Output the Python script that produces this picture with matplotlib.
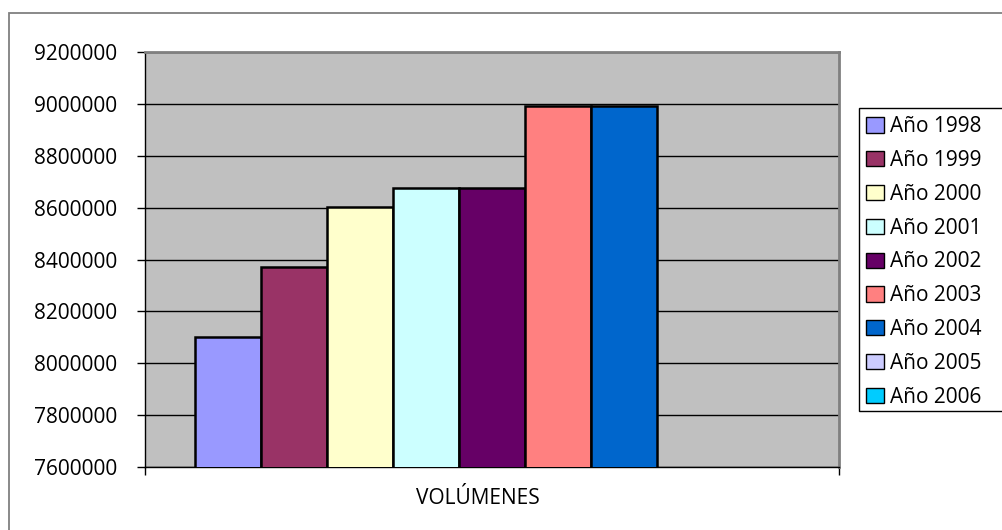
import matplotlib
matplotlib.use("Agg")
import matplotlib.pyplot as plt
from matplotlib.patches import Rectangle

series = ["Año 1998", "Año 1999", "Año 2000", "Año 2001", "Año 2002",
          "Año 2003", "Año 2004", "Año 2005", "Año 2006"]
values = [8102000, 8372000, 8603000, 8676000, 8676000,
          8992000, 8992000, 0, 0]
category = "VOLÚMENES"
yticks = [7600000, 7800000, 8000000, 8200000, 8400000,
          8600000, 8800000, 9000000, 9200000]
colors = ["#9999FF", "#993366", "#FFFFCC", "#CCFFFF", "#660066",
          "#FF8080", "#0066CC", "#CCCCFF", "#00CCFF"]

plt.rcParams['font.family'] = ['Open Sans', 'DejaVu Sans']

W, H = 1003, 530
fig = plt.figure(figsize=(W / 100, H / 100), dpi=100)

# outer chart border
fig.patches.append(Rectangle((9 / W, -0.1), 1.2, 1 - 13 / H + 0.1,
                             transform=fig.transFigure, fill=False,
                             edgecolor="#808080", linewidth=1.3))

L, R, T, B = 145, 839, 52, 467
ax = fig.add_axes([L / W, 1 - B / H, (R - L) / W, (B - T) / H])
ax.set_facecolor("#C0C0C0")

n = len(series)
w = 1.0 / (n + 1.5)
start = -0.5 + 0.75 * w
handles = []
for i, (s, v, c) in enumerate(zip(series, values, colors)):
    h = ax.bar(start + (i + 0.5) * w, v, width=w, color=c, edgecolor="black",
               linewidth=1.8, label=s, zorder=3)
    handles.append(h)

ax.set_xlim(-0.5, 0.5)
ax.set_ylim(yticks[0], yticks[-1])
ax.set_yticks(yticks)
ax.set_yticklabels([str(t) for t in yticks], fontsize=15)
ax.set_xticks([-0.5, 0.5])
ax.set_xticklabels(["", ""])
ax.tick_params(axis="y", direction="out", length=6, width=1, color="black", pad=14)
ax.tick_params(axis="x", direction="out", length=6, width=1, color="black")
ax.yaxis.grid(True, color="black", linewidth=1)
ax.set_axisbelow(True)
for side in ["left", "bottom"]:
    ax.spines[side].set_color("black")
    ax.spines[side].set_linewidth(1)
for side in ["top", "right"]:
    ax.spines[side].set_color("#808080")
    ax.spines[side].set_linewidth(2)

fig.text(477.5 / W, 1 - 499 / H, category, ha="center", va="center", fontsize=15)

# legend frame (extends past the right edge)
fig.patches.append(Rectangle((858.7 / W, 1 - 411 / H), 0.4, (411 - 108) / H,
                             transform=fig.transFigure, facecolor="white",
                             edgecolor="black", linewidth=1.0, zorder=1))
leg = fig.legend(handles=handles, labels=series, loc="upper left",
                 bbox_to_anchor=(862 / W, 1 - 112 / H), frameon=False,
                 fontsize=15, handlelength=0.85, handleheight=0.75,
                 handletextpad=0.3, labelspacing=0.615, borderaxespad=0,
                 borderpad=0.2)
for p in leg.get_patches():
    p.set_linewidth(1.0)

fig.savefig("out.png", dpi=100)
